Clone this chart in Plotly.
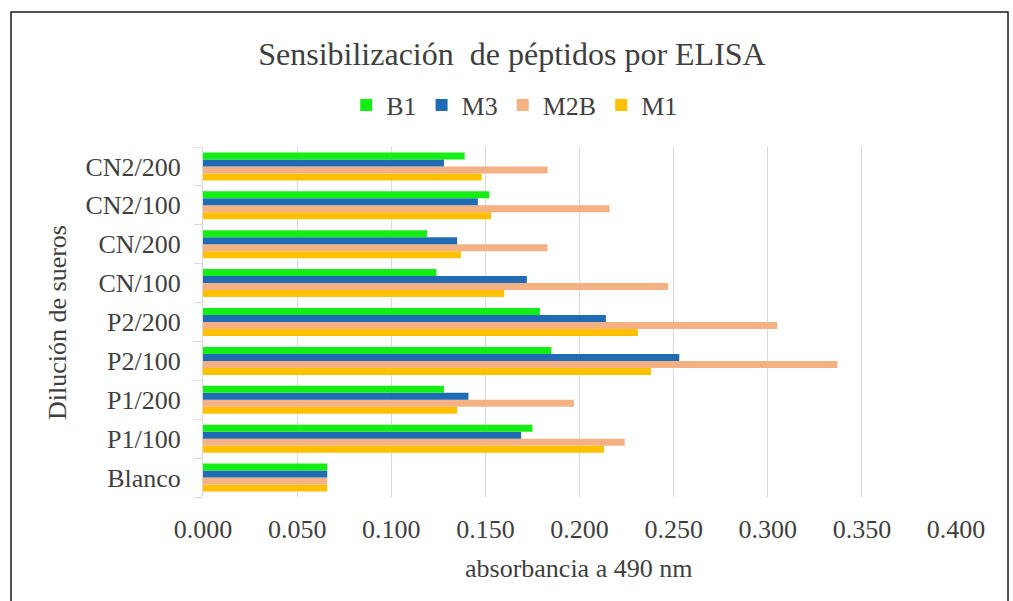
import plotly.graph_objects as go

categories = ["Blanco", "P1/100", "P1/200", "P2/100", "P2/200",
              "CN/100", "CN/200", "CN2/100", "CN2/200"]
b1 = [0.066, 0.175, 0.128, 0.185, 0.179, 0.124, 0.119, 0.152, 0.139]
m3 = [0.066, 0.169, 0.141, 0.253, 0.214, 0.172, 0.135, 0.146, 0.128]
m2b = [0.066, 0.224, 0.197, 0.337, 0.305, 0.247, 0.183, 0.216, 0.183]
m1 = [0.066, 0.213, 0.135, 0.238, 0.231, 0.160, 0.137, 0.153, 0.148]
x_ticks = [0.0, 0.05, 0.1, 0.15, 0.2, 0.25, 0.3, 0.35, 0.4]

FONT = "Liberation Serif"
TXT = "#3f3f3f"

series = [("M1", m1, "#ffc000"), ("M2B", m2b, "#f4b183"),
          ("M3", m3, "#1f6cb4"), ("B1", b1, "#14ee14")]

fig = go.Figure()
for name, vals, col in series:
    fig.add_trace(go.Bar(y=categories, x=vals, name=name, orientation="h",
                         marker=dict(color=col, line=dict(width=0))))

fig.update_layout(
    width=1013, height=601,
    margin=dict(l=203, r=57, t=147, b=104),
    paper_bgcolor="white", plot_bgcolor="white",
    barmode="group", bargap=0.28, bargroupgap=0,
    font=dict(family=FONT, color=TXT, size=26),
    title=dict(text="Sensibilización&nbsp; de péptidos por ELISA",
               font=dict(family=FONT, size=32, color=TXT),
               x=0.5054, xref="container", xanchor="center",
               y=1 - 54 / 601, yref="container", yanchor="middle"),
    legend=dict(orientation="h", traceorder="reversed",
                x=0.414, xanchor="center", y=1.12, yanchor="middle",
                font=dict(family=FONT, size=26, color=TXT),
                itemwidth=30, bgcolor="rgba(0,0,0,0)"),
    showlegend=True,
    xaxis=dict(range=[0, 0.4], tickvals=x_ticks, tickformat=".3f",
               showgrid=True, gridcolor="#d9d9d9", gridwidth=1,
               zeroline=False, showline=False, ticks="",
               ticklabelstandoff=14,
               tickfont=dict(family=FONT, size=26, color=TXT)),
    yaxis=dict(type="category", categoryorder="array", categoryarray=categories,
               showgrid=False, zeroline=False, showline=True,
               linecolor="#d9d9d9", linewidth=1,
               ticks="outside", tickson="boundaries", ticklen=8,
               tickcolor="#d9d9d9", ticklabelstandoff=16,
               tickfont=dict(family=FONT, size=26, color=TXT)),
    annotations=[
        dict(text="absorbancia a 490 nm", xref="paper", yref="paper",
             x=(578 - 203) / 753, y=(497 - 568) / 350, xanchor="center",
             yanchor="middle", showarrow=False,
             font=dict(family=FONT, size=26, color=TXT)),
        dict(text="Dilución de sueros", xref="paper", yref="paper",
             x=(57 - 203) / 753, y=(497 - 323) / 350, xanchor="center",
             yanchor="middle", textangle=-90, showarrow=False,
             font=dict(family=FONT, size=26, color=TXT)),
    ],
    shapes=[dict(type="rect", xref="paper", yref="paper",
                 x0=(11 - 203) / 753, x1=(1008 - 203) / 753,
                 y0=(497 - 620) / 350, y1=(497 - 12) / 350,
                 line=dict(color="#1a1a1a", width=1.5), layer="below")],
)

fig.write_html("out.html")
